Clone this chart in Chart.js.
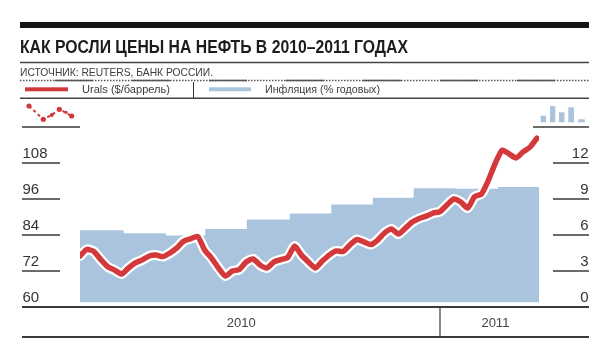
<!DOCTYPE html>
<html lang="ru">
<head>
<meta charset="utf-8">
<script src="https://cdn.jsdelivr.net/npm/chart.js@4.4.1/dist/chart.umd.min.js"></script>
<style>
html, body { margin: 0; padding: 0; background: #fff; }
body { width: 613px; height: 362px; position: relative; overflow: hidden;
       font-family: "Liberation Sans Narrow", "Liberation Sans", Arial, sans-serif; }
.abs { position: absolute; white-space: nowrap; transform-origin: 0 0; }
#deco, #chart { position: absolute; left: 0; top: 0; }
#title  { left: 20px; top: 38px; font-size: 18px; line-height: 18px; font-weight: bold; color: #1c1c1c; }
#source { left: 20px; top: 66.8px; font-size: 11px; line-height: 11px; color: #3c3c3c; }
.legend { top: 84.1px; font-size: 11px; line-height: 11px; color: #3c3c3c; }
#legOil { left: 82px; }
#legInf { left: 265px; }
</style>
</head>
<body>
<svg id="deco" width="613" height="362">
  <rect x="20" y="22" width="569" height="6" fill="#151515"/>
  <line x1="20" y1="62.5" x2="589" y2="62.5" stroke="#444" stroke-width="1.4"/>
  <line x1="20" y1="80.5" x2="589" y2="80.5" stroke="#555" stroke-width="1.3" stroke-dasharray="1.5 1.5"/>
  <line x1="20" y1="80.5" x2="589" y2="80.5" stroke="#555" stroke-width="1.3" stroke-dasharray="38 39" stroke-dashoffset="42"/>
  <line x1="20" y1="98.3" x2="589" y2="98.3" stroke="#444" stroke-width="1.4"/>
  <line x1="193.5" y1="82" x2="193.5" y2="98" stroke="#333" stroke-width="1"/>
  <rect x="25" y="87.3" width="43" height="4" fill="#d0393b"/>
  <rect x="209" y="87.3" width="42" height="4" fill="#aac4de"/>
  <!-- line icon -->
  <polyline points="29,106 43.3,119.3 51.7,115 59.3,109.3 71.7,116" fill="none" stroke="#d0393b"
            stroke-width="2" stroke-dasharray="3 3"/>
  <circle cx="29" cy="106" r="2.6" fill="#d0393b"/>
  <circle cx="43.3" cy="119.3" r="2.6" fill="#d0393b"/>
  <circle cx="51.7" cy="115" r="2" fill="#d0393b"/>
  <circle cx="59.3" cy="109.3" r="2.6" fill="#d0393b"/>
  <circle cx="66" cy="112.3" r="1.6" fill="#d0393b"/>
  <circle cx="71.7" cy="116" r="2.6" fill="#d0393b"/>
  <!-- bar icon -->
  <rect x="540.7" y="115.7" width="5.3" height="6.6" fill="#aac4de"/>
  <rect x="550" y="106" width="5.3" height="16.3" fill="#aac4de"/>
  <rect x="559" y="112.3" width="5.5" height="10" fill="#aac4de"/>
  <rect x="568.3" y="107.3" width="5.7" height="15" fill="#aac4de"/>
  <rect x="578.3" y="119.3" width="6.5" height="3" fill="#aac4de"/>
</svg>
<canvas id="chart" width="613" height="362"></canvas>
<div id="title" class="abs">КАК РОСЛИ ЦЕНЫ НА НЕФТЬ В 2010–2011 ГОДАХ</div>
<div id="source" class="abs">ИСТОЧНИК: REUTERS, БАНК РОССИИ.</div>
<div id="legOil" class="abs legend">Urals ($/баррель)</div>
<div id="legInf" class="abs legend">Инфляция (% годовых)</div>
<script>
// ── Data ──────────────────────────────────────────────
// Urals, $/bbl, weekly from Jan 2010 (week 0) to early Apr 2011
const oilPrices = [
  77.0, 79.2, 78.5, 75.8, 73.4, 72.3, 71.0, 73.0, 74.7, 75.7,
  77.0, 77.3, 76.8, 78.0, 79.7, 82.0, 82.8, 83.5, 79.0, 76.3,
  73.0, 70.3, 72.0, 72.5, 75.0, 76.0, 74.0, 73.0, 75.0, 75.8,
  76.5, 80.3, 77.3, 75.0, 73.0, 75.3, 77.3, 78.7, 78.5, 80.7,
  82.5, 81.7, 80.8, 82.3, 84.7, 86.0, 84.3, 86.3, 88.3, 89.5,
  90.3, 91.3, 91.8, 94.0, 96.0, 95.0, 93.0, 96.8, 97.7, 102.3,
  108.0, 112.3, 111.0, 109.7, 111.7, 113.3, 116.3
];
const oilWeeks = oilPrices.map((_, i) => i);

// Inflation, % y/y — step starts (in weeks) and levels
const inflWeeks = [0, 6.3, 12.4, 18.1, 24.1, 30.3, 36.3, 42.3, 48.2, 54.3, 60.4, 66.3];
const inflation = [6.4, 6.15, 5.95, 6.5, 7.3, 7.8, 8.55, 9.1, 9.9, 9.85, 10.0, 10.0];

const leftTicks  = [60, 72, 84, 96, 108];
const rightTicks = [0, 3, 6, 9, 12];
const yearLabels = ['2010', '2011'];
const yearCenters = [23.3, 60];
const yearBreak = 52;

const $ = id => document.getElementById(id);

// ── Squeeze header texts to the printed widths ────────
function fitText(id, w) {
  const el = $(id);
  const r = el.getBoundingClientRect().width;
  el.style.transform = `scaleX(${w / r})`;
}
fitText('title', 388);
fitText('source', 193);
fitText('legOil', 88);
fitText('legInf', 115);

// ── Axis furniture ────────────────────────────────────
const axisDecor = {
  id: 'axisDecor',
  afterDraw(chart) {
    const { ctx, scales: { x, y, y2 } } = chart;
    ctx.save();
    ctx.strokeStyle = '#3a3a3a';
    ctx.lineWidth = 1.3;
    const hline = (x1, x2, py, w) => {
      ctx.lineWidth = w || 1.3;
      ctx.beginPath(); ctx.moveTo(x1, py); ctx.lineTo(x2, py); ctx.stroke();
    };
    leftTicks.slice(1).forEach(v => hline(22, 60, y.getPixelForValue(v)));
    rightTicks.slice(1).forEach(v => hline(553, 589, y2.getPixelForValue(v)));
    hline(22, 80, y.getPixelForValue(120));
    hline(533, 589, y2.getPixelForValue(15));

    const base = y.getPixelForValue(60);
    hline(22, 589, base, 1.8);
    hline(22, 589, base + 30, 2.2);
    const bx = x.getPixelForValue(yearBreak);
    ctx.lineWidth = 1.2;
    ctx.beginPath(); ctx.moveTo(bx, base); ctx.lineTo(bx, base + 30); ctx.stroke();

    ctx.fillStyle = '#333';
    ctx.font = '15px "Liberation Sans", Arial, sans-serif';
    ctx.textBaseline = 'alphabetic';
    ctx.textAlign = 'left';
    leftTicks.forEach(v => ctx.fillText(String(v), 22.5, y.getPixelForValue(v) - 5.5));
    ctx.textAlign = 'right';
    rightTicks.forEach(v => ctx.fillText(String(v), 588.5, y2.getPixelForValue(v) - 5.5));

    ctx.fillStyle = '#444';
    ctx.font = '13px "Liberation Sans Narrow", "Liberation Sans", Arial, sans-serif';
    ctx.textAlign = 'center';
    yearLabels.forEach((t, i) => ctx.fillText(t, x.getPixelForValue(yearCenters[i]), base + 20));
    ctx.restore();
  }
};

// ── Chart ─────────────────────────────────────────────
const oilPoints = oilWeeks.map((w, i) => ({ x: w, y: oilPrices[i] }));

new Chart($('chart').getContext('2d'), {
  type: 'line',
  data: {
    datasets: [
      { label: 'Urals ($/баррель)', data: oilPoints, yAxisID: 'y', order: 0,
        borderColor: '#d3393b', borderWidth: 5.5, pointRadius: 0, tension: 0.2,
        borderJoinStyle: 'round', borderCapStyle: 'round', fill: false },
      { label: 'halo', data: oilPoints, yAxisID: 'y', order: 1,
        borderColor: '#ffffff', borderWidth: 10, pointRadius: 0, tension: 0.2,
        borderJoinStyle: 'round', borderCapStyle: 'round', fill: false },
      { label: 'Инфляция (% годовых)',
        data: inflWeeks.map((w, i) => ({ x: w, y: inflation[i] })),
        yAxisID: 'y2', order: 2, stepped: true,
        backgroundColor: '#aac4de', borderWidth: 0, pointRadius: 0,
        fill: { value: 0.4 } }
    ]
  },
  options: {
    responsive: false,
    animation: false,
    layout: { padding: { left: 80, right: 74, top: 127, bottom: 55 } },
    plugins: { legend: { display: false }, tooltip: { enabled: false } },
    scales: {
      x:  { type: 'linear', min: 0, max: 66.3, display: false },
      y:  { min: 60, max: 120, display: false },
      y2: { min: 0, max: 15, display: false }
    }
  },
  plugins: [axisDecor]
});
</script>
</body>
</html>
